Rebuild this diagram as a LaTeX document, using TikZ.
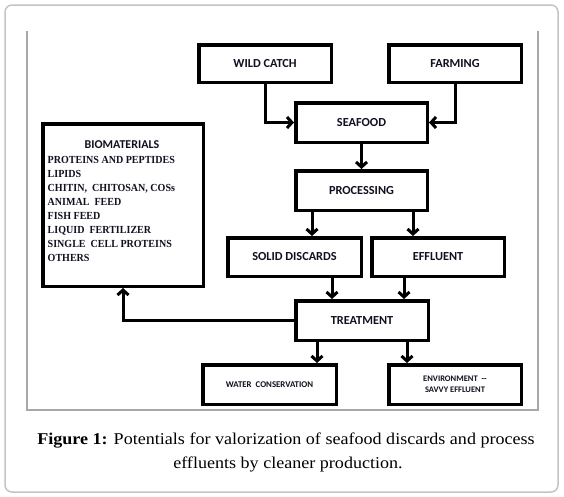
\documentclass[tikz,border=0pt]{standalone}
\usepackage{fontspec}
\setmainfont{Liberation Serif}
\newfontfamily\calfont{Carlito}
\usetikzlibrary{arrows.meta,positioning,calc}
\definecolor{framegray}{HTML}{A8A8A8}
\definecolor{outergray}{HTML}{C4C4C4}
\definecolor{inktext}{HTML}{101020}
\begin{document}
\begin{tikzpicture}[x=1pt,y=-1pt,
  box/.style={draw=black,line width=3.5pt,fill=white,inner sep=0pt,
    font=\calfont\bfseries\fontsize{12.3}{14}\selectfont,text=inktext,align=center},
  smallbox/.style={box,font=\calfont\bfseries\fontsize{8.8}{11}\selectfont},
  tinybox/.style={box,font=\calfont\bfseries\fontsize{8.5}{11}\selectfont},
  captext/.style={inner sep=0pt,font=\fontsize{16.5}{20}\selectfont,text=black},
  arr/.style={draw=black,line width=3pt,-{Straight Barb[length=5pt,width=11pt]}}]
\useasboundingbox (0,0) rectangle (564,496);
\fill[white] (0,0) rectangle (564,496);
% outer card and figure frame
\draw[outergray,line width=1.5pt,rounded corners=7pt] (5,5) rectangle (558,492);
\draw[framegray,line width=2.5pt] (27,31) -- (27,410);
\draw[framegray,line width=2.5pt] (538,31) -- (538,410);
\draw[framegray,line width=1.5pt] (26,410) -- (539,410);
% nodes
\node[box,minimum width=132.5pt,minimum height=37.5pt] (wild) at (265,63.5) {WILD CATCH};
\node[box,minimum width=132.5pt,minimum height=37.5pt] (farm) at (455,63.5) {FARMING};
\node[box,minimum width=131.5pt,minimum height=39.5pt] (sea) at (361.5,122.5) {SEAFOOD};
\node[box,minimum width=131.5pt,minimum height=39.5pt] (proc) at (361.5,190.5) {PROCESSING};
\node[box,minimum width=133.5pt,minimum height=38.5pt] (solid) at (294.5,257) {SOLID DISCARDS};
\node[box,minimum width=132.5pt,minimum height=38.5pt] (eff) at (438,257) {EFFLUENT};
\node[box,minimum width=132.5pt,minimum height=39.5pt] (treat) at (362,320.5) {TREATMENT};
\node[smallbox,minimum width=133.5pt,minimum height=39.5pt] (water) at (269.5,384.5) {WATER\ \ CONSERVATION};
\node[tinybox,minimum width=132.5pt,minimum height=39.5pt] (env) at (455,384.5) {ENVIRONMENT\ \ --\\SAVVY EFFLUENT};
\node[draw=black,line width=3.5pt,fill=white,minimum width=160.5pt,minimum height=162.5pt,inner sep=0pt] (bio) at (123,205) {};
\node[inner sep=0pt,text=inktext,font=\calfont\bfseries\fontsize{12}{13}\selectfont] (biotitle) at (122,145) {BIOMATERIALS};
\node[anchor=north west,inner sep=0pt,text=inktext,
  font=\bfseries\fontsize{10.8}{13.9}\selectfont] (biotext) at (47.5,154)
  {\scalebox{0.93}[1]{\begin{tabular}{@{}l@{}}PROTEINS AND PEPTIDES\\LIPIDS\\CHITIN,\ \ CHITOSAN, COSs\\ANIMAL\ \ FEED\\FISH FEED\\LIQUID\ \ FERTILIZER\\SINGLE\ \ CELL PROTEINS\\OTHERS\end{tabular}}};
% connectors
\draw[arr] (wild.south) |- (sea.west);
\draw[arr] (farm.south) |- (sea.east);
\draw[arr] (sea.south) -- (proc.north);
\draw[arr] ([xshift=-49.5pt]proc.south) -- ([xshift=17.5pt]solid.north);
\draw[arr] ([xshift=51.5pt]proc.south) -- ([xshift=-25pt]eff.north);
\draw[arr] ([xshift=37.5pt]solid.south) -- ([xshift=-30pt]treat.north);
\draw[arr] ([xshift=-34pt]eff.south) -- ([xshift=42pt]treat.north);
\draw[arr] ([xshift=-45pt]treat.south) -- ([xshift=47.5pt]water.north);
\draw[arr] ([xshift=45pt]treat.south) -- ([xshift=-48pt]env.north);
\draw[arr] (treat.west) -| (bio.south);
% caption
\node[captext] (cap1) at (286,441)
  {\scalebox{1.095}[1]{\textbf{Figure 1:} Potentials for valorization of seafood discards and process}};
\node[captext] (cap2) at (288,464)
  {\scalebox{1.095}[1]{effluents by cleaner production.}};
\end{tikzpicture}
\end{document}
